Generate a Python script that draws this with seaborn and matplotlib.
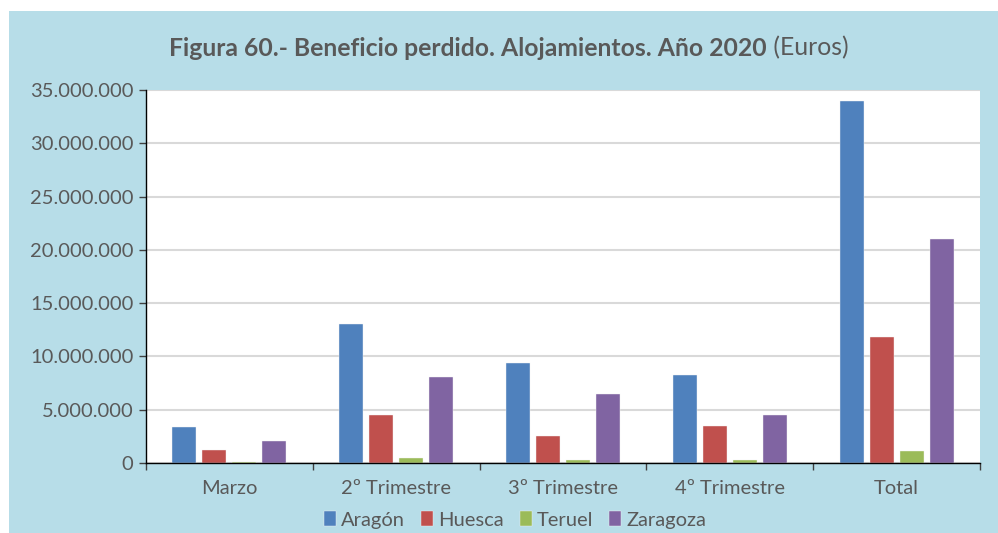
import matplotlib
matplotlib.use("Agg")
import matplotlib.pyplot as plt
import matplotlib.ticker as mticker
from matplotlib.patches import Rectangle
import seaborn as sns
import pandas as pd
import numpy as np

periodos = ["Marzo", "2º Trimestre", "3º Trimestre", "4º Trimestre", "Total"]
territorios = ["Aragón", "Huesca", "Teruel", "Zaragoza"]
aragon = [3380000, 13000000, 9350000, 8250000, 33930000]
huesca = [1220000, 4500000, 2570000, 3470000, 11790000]
teruel = [120000, 500000, 280000, 250000, 1130000]
zaragoza = [2060000, 8040000, 6470000, 4530000, 21000000]
colores = ["#4F81BD", "#C0504D", "#9BBB59", "#8064A2"]

df = pd.DataFrame({
    "periodo": periodos * 4,
    "territorio": np.repeat(territorios, len(periodos)),
    "valor": aragon + huesca + teruel + zaragoza,
})

sns.set_theme(style="white")
plt.rcParams["font.family"] = ["Lato", "DejaVu Sans"]
txt = "#595959"
W, H = 998, 533

fig = plt.figure(figsize=(W / 100, H / 100), dpi=100)
fig.patch.set_facecolor("white")
fig.patches.append(Rectangle((9 / W, 0), 1 - 9 / W, 1 - 11 / H,
                             transform=fig.transFigure, facecolor="#B7DDE8",
                             edgecolor="none", zorder=-10))

ax = fig.add_axes([146 / W, 1 - 463 / H, (980 - 146) / W, (463 - 90) / H])
sns.barplot(data=df, x="periodo", y="valor", hue="territorio",
            palette=colores, width=0.72, gap=0.2, ax=ax,
            edgecolor="#F2F2F2", linewidth=0.3, saturation=1)

ax.set_facecolor("white")
ax.set_ylim(0, 35000000)
ax.set_xlim(-0.5, 4.5)
ax.yaxis.set_major_locator(mticker.MultipleLocator(5000000))
ax.yaxis.set_major_formatter(mticker.FuncFormatter(
    lambda v, p: f"{int(v):,}".replace(",", ".")))
ax.grid(axis="y", color="#D9D9D9", linewidth=1.5)
ax.set_axisbelow(True)
ax.set_xlabel("")
ax.set_ylabel("")

for s in ["top", "right"]:
    ax.spines[s].set_visible(False)
for s in ["left", "bottom"]:
    ax.spines[s].set_color("black")
    ax.spines[s].set_linewidth(1.0)

ax.tick_params(axis="y", which="major", length=5, width=1, color="#404040",
               direction="out", labelsize=14.5, labelcolor=txt, pad=4, left=True)
ax.tick_params(axis="x", which="major", length=0, labelsize=14.5, labelcolor=txt, pad=12)
ax.xaxis.set_minor_locator(mticker.FixedLocator(np.arange(-0.5, 5, 1)))
ax.tick_params(axis="x", which="minor", length=5, width=1, color="#404040",
               direction="out", bottom=True)

# legend centred below the category labels
leg_y = (H - 520 - (H - 463)) / (463 - 90)
ax.legend(loc="center", bbox_to_anchor=((515 - 146) / (980 - 146), leg_y), ncol=4,
          frameon=False, fontsize=14.5, handlelength=0.6, handleheight=0.7,
          handletextpad=0.25, columnspacing=0.8, labelcolor=txt,
          borderaxespad=0, borderpad=0)

t1 = fig.text(0, 0, "Figura 60.- Beneficio perdido. Alojamientos. Año 2020",
              fontsize=17.8, fontweight="bold", color=txt, va="center")
t2 = fig.text(0, 0, " (Euros)", fontsize=17.8, color=txt, va="center")
fig.canvas.draw()
r = fig.canvas.get_renderer()
w1 = t1.get_window_extent(r).width
w2 = t2.get_window_extent(r).width
cx = 509
x0 = cx - (w1 + w2) / 2
ypix = H - 48
t1.set_position((x0 / W, ypix / H))
t2.set_position(((x0 + w1) / W, ypix / H))

fig.savefig("out.png", dpi=100, facecolor=fig.get_facecolor())
